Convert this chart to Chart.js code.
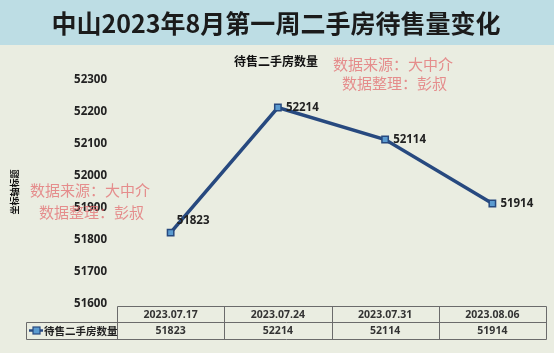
<!DOCTYPE html>
<html lang="zh">
<head>
<meta charset="UTF-8">
<script src="https://cdn.jsdelivr.net/npm/chart.js"></script>
<style>
  html, body { margin: 0; padding: 0; background: #eaede1; }
  #wrap { width: 554px; height: 353px; }
</style>
</head>
<body>
<div id="wrap"><canvas id="myChart" width="554" height="353"></canvas></div>
<script>
// 数据
const mainTitle = '中山2023年8月第一周二手房待售量变化';
const seriesName = '待售二手房数量';
const dates = ['2023.07.17', '2023.07.24', '2023.07.31', '2023.08.06'];
const counts = [51823, 52214, 52114, 51914];
const yTicks = [51600, 51700, 51800, 51900, 52000, 52100, 52200, 52300];
const marks = ['数据来源：大中介', '数据整理：彭叔'];

const lineColor = '#27497f';
const sansCJK = '"Noto Sans CJK SC", "Noto Sans", sans-serif';
const numFont = '"Open Sans", "Noto Sans", sans-serif';

// 背景 + 大标题 + 图表标题
const bgPlugin = {
  id: 'bg',
  beforeDraw(chart) {
    const c = chart.ctx;
    c.save();
    c.fillStyle = '#eaede1';
    c.fillRect(0, 0, chart.width, chart.height);
    c.fillStyle = '#bddde4';
    c.fillRect(0, 0, chart.width, 45);
    c.fillStyle = '#1b1b1b';
    c.font = 'bold 25px ' + sansCJK;
    c.textAlign = 'center';
    c.textBaseline = 'middle';
    c.fillText(mainTitle, 276, 23);
    c.font = 'bold 12px ' + sansCJK;
    c.fillStyle = '#111';
    c.fillText(seriesName, 276, 61);
    c.restore();
  }
};

// 数据标签
const labelPlugin = {
  id: 'labels',
  afterDatasetsDraw(chart) {
    const c = chart.ctx;
    const meta = chart.getDatasetMeta(0);
    c.save();
    c.font = 'bold 11.5px ' + numFont;
    c.fillStyle = '#222';
    c.textBaseline = 'middle';
    c.textAlign = 'left';
    meta.data.forEach((pt, i) => {
      if (i === 0) c.fillText(counts[i], pt.x + 6, pt.y - 12);
      else c.fillText(counts[i], pt.x + 8, pt.y);
    });
    c.restore();
  }
};

// 数据表
const tablePlugin = {
  id: 'table',
  afterDraw(chart) {
    const c = chart.ctx;
    const xs = chart.scales.x;
    const area = chart.chartArea;
    const top = 306, mid = 322, bot = 339;
    const left = area.left, right = area.right;
    const colW = (right - left) / dates.length;
    c.save();
    c.strokeStyle = '#6b6b6b';
    c.lineWidth = 1;
    c.beginPath();
    c.moveTo(left + 0.5, top + 0.5); c.lineTo(right + 0.5, top + 0.5);
    c.moveTo(26.5, mid + 0.5); c.lineTo(right + 0.5, mid + 0.5);
    c.moveTo(26.5, bot + 0.5); c.lineTo(right + 0.5, bot + 0.5);
    c.moveTo(26.5, mid + 0.5); c.lineTo(26.5, bot + 0.5);
    for (let i = 0; i <= dates.length; i++) {
      const x = Math.round(left + colW * i) + 0.5;
      c.moveTo(x, top + 0.5); c.lineTo(x, bot + 0.5);
    }
    c.stroke();

    c.fillStyle = '#333';
    c.font = 'bold 10.5px ' + numFont;
    c.textAlign = 'center';
    c.textBaseline = 'middle';
    dates.forEach((d, i) => {
      const x = xs.getPixelForValue(i);
      c.fillText(d, x, (top + mid) / 2 + 1);
      c.fillText(counts[i], x, (mid + bot) / 2 + 1);
    });

    // 图例
    const ly = (mid + bot) / 2;
    c.strokeStyle = lineColor;
    c.lineWidth = 2.5;
    c.beginPath(); c.moveTo(29, ly); c.lineTo(43, ly); c.stroke();
    c.fillStyle = '#5b9bd0';
    c.lineWidth = 1.2;
    c.fillRect(33, ly - 3.5, 7, 7);
    c.strokeRect(33, ly - 3.5, 7, 7);
    c.fillStyle = '#222';
    c.font = 'bold 10.5px ' + sansCJK;
    c.textAlign = 'left';
    c.fillText(seriesName, 44, ly + 1);
    c.restore();
  }
};

// 水印
const markPlugin = {
  id: 'marks',
  afterDraw(chart) {
    const c = chart.ctx;
    c.save();
    c.font = '15px ' + sansCJK;
    c.fillStyle = 'rgba(226, 100, 104, 0.7)';
    c.textAlign = 'left';
    c.textBaseline = 'middle';
    c.fillText(marks[0], 333, 64);
    c.fillText(marks[1], 342, 83);
    c.fillText(marks[0], 30, 190);
    c.fillText(marks[1], 39, 212);
    c.restore();
  }
};

new Chart(document.getElementById('myChart'), {
  type: 'line',
  data: {
    labels: dates,
    datasets: [{
      label: seriesName,
      data: counts,
      borderColor: lineColor,
      borderWidth: 3.5,
      pointStyle: 'rect',
      pointRadius: 4.5,
      pointBackgroundColor: '#5b9bd0',
      pointBorderColor: lineColor,
      pointBorderWidth: 1.5,
      tension: 0
    }]
  },
  options: {
    responsive: false,
    animation: false,
    layout: { padding: { top: 80, bottom: 49, left: 0, right: 8 } },
    plugins: { legend: { display: false }, tooltip: { enabled: false } },
    scales: {
      x: { display: false, offset: true },
      y: {
        min: yTicks[0],
        max: yTicks[yTicks.length - 1],
        afterBuildTicks(scale) { scale.ticks = yTicks.map(v => ({ value: v })); },
        afterFit(scale) { scale.width = 117; },
        grid: { display: false },
        border: { display: false },
        ticks: {
          color: '#222',
          padding: 2,
          callback: v => String(v),
          font: { family: numFont, size: 11.5, weight: 'bold' }
        },
        title: {
          display: true,
          text: '坐标轴标题',
          color: '#111',
          padding: { top: 9, bottom: 0 },
          font: { family: sansCJK, size: 9, weight: 'bold' }
        }
      }
    }
  },
  plugins: [bgPlugin, labelPlugin, tablePlugin, markPlugin]
});
</script>
</body>
</html>
